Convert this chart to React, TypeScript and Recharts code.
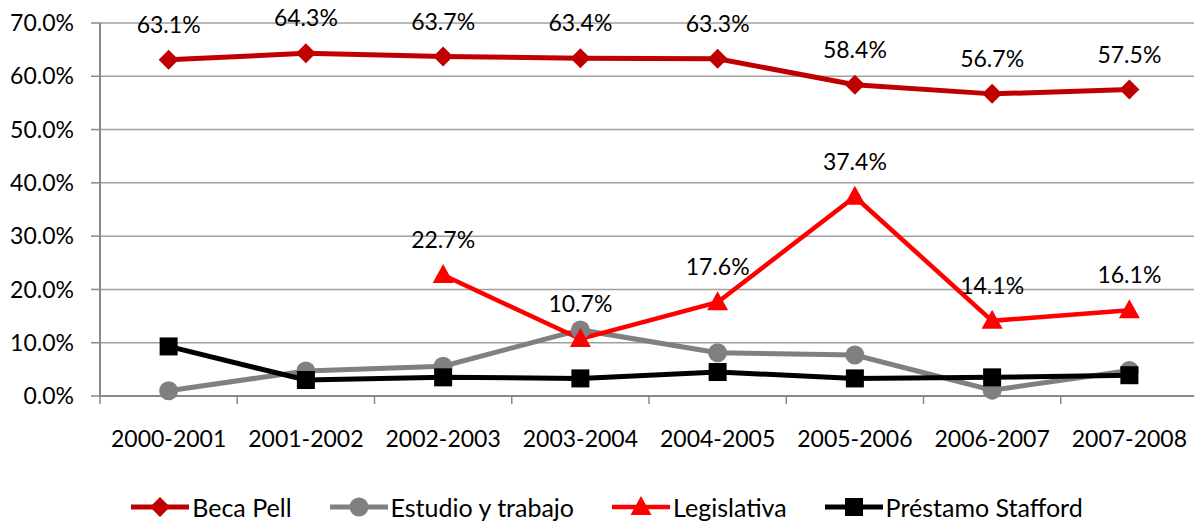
import React from "react";
import {
  LineChart,
  Line,
  XAxis,
  YAxis,
  CartesianGrid,
  Legend,
  LabelList,
} from "recharts";

// años académicos
const categories = [
  "2000-2001",
  "2001-2002",
  "2002-2003",
  "2003-2004",
  "2004-2005",
  "2005-2006",
  "2006-2007",
  "2007-2008",
];

const becaPell = [63.1, 64.3, 63.7, 63.4, 63.3, 58.4, 56.7, 57.5];
const estudioTrabajo = [1.0, 4.7, 5.6, 12.4, 8.1, 7.7, 1.1, 4.8];
const legislativa = [null, null, 22.7, 10.7, 17.6, 37.4, 14.1, 16.1];
const prestamoStafford = [9.3, 3.0, 3.5, 3.3, 4.5, 3.3, 3.5, 3.9];

const yTicks = [0, 10, 20, 30, 40, 50, 60, 70];

// etiquetas en el centro de cada categoría, marcas en los bordes
const xTicks = categories.flatMap((_, i) => [i - 0.5, i]).concat(categories.length - 0.5);

const FONT = "Lato, 'Open Sans', sans-serif";

const SERIES = [
  { key: "pell", name: "Beca Pell", color: "#C00000", shape: "diamond", width: 5 },
  { key: "estudio", name: "Estudio y trabajo", color: "#808080", shape: "circle", width: 5 },
  { key: "legis", name: "Legislativa", color: "#FF0000", shape: "triangle", width: 4.5 },
  { key: "stafford", name: "Préstamo Stafford", color: "#000000", shape: "square", width: 5 },
];

const data = categories.map((c, i) => ({
  i,
  cat: c,
  pell: becaPell[i],
  estudio: estudioTrabajo[i],
  legis: legislativa[i],
  stafford: prestamoStafford[i],
}));

function Marker({ shape, cx, cy, color }: any) {
  if (shape === "diamond") {
    return <path d={`M${cx},${cy - 10}L${cx + 10},${cy}L${cx},${cy + 10}L${cx - 10},${cy}Z`} fill={color} />;
  }
  if (shape === "circle") {
    return <circle cx={cx} cy={cy} r={9.5} fill={color} />;
  }
  if (shape === "triangle") {
    return <path d={`M${cx},${cy - 11}L${cx + 10.5},${cy + 8}L${cx - 10.5},${cy + 8}Z`} fill={color} />;
  }
  return <rect x={cx - 9} y={cy - 9} width={18} height={18} fill={color} />;
}

const makeDot = (shape: string, color: string) => (props: any) => {
  const { cx, cy, index, value } = props;
  if (value == null || cx == null || cy == null) return <g key={`d-${shape}-${index}`} />;
  return (
    <g key={`d-${shape}-${index}`}>
      <Marker shape={shape} cx={cx} cy={cy} color={color} />
    </g>
  );
};

const renderLabel = (props: any) => {
  const { x, y, value, index } = props;
  if (value == null) return null;
  return (
    <text
      key={`l-${index}`}
      x={x}
      y={y - 36}
      textAnchor="middle"
      dominantBaseline="central"
      fill="#000"
      fontSize={23}
      fontFamily={FONT}
    >
      {Number(value).toFixed(1)}%
    </text>
  );
};

function XTick(props: any) {
  const { x, y, payload } = props;
  const v = payload.value;
  if (Number.isInteger(v)) {
    return (
      <text x={x} y={y + 35} dy="0.71em" textAnchor="middle" fill="#000" fontSize={23} fontFamily={FONT}>
        {categories[v]}
      </text>
    );
  }
  return <line x1={x} x2={x} y1={y} y2={y + 8} stroke="#888" strokeWidth={1.5} />;
}

function LegendContent() {
  return (
    <div
      style={{
        display: "flex",
        justifyContent: "center",
        alignItems: "center",
        height: 36,
        paddingLeft: 16,
        fontFamily: FONT,
        fontSize: 25,
        color: "#000",
        whiteSpace: "nowrap",
      }}
    >
      {SERIES.map((s, i) => (
        <div
          key={s.key}
          style={{ display: "flex", alignItems: "center", marginRight: i < SERIES.length - 1 ? 38 : 0 }}
        >
          <svg width={58} height={24} style={{ marginRight: 3 }}>
            <line x1={0} y1={12} x2={58} y2={12} stroke={s.color} strokeWidth={s.width} />
            <Marker shape={s.shape} cx={29} cy={12} color={s.color} />
          </svg>
          <span>{s.name}</span>
        </div>
      ))}
    </div>
  );
}

export default function App() {
  return (
    <div
      style={{
        position: "absolute",
        left: 0,
        top: 0,
        width: 1194,
        height: 525,
        overflow: "hidden",
        background: "#fff",
      }}
    >
      <LineChart
        width={1198}
        height={525}
        data={data}
        margin={{ top: 23, right: 0, bottom: 0, left: 0 }}
        style={{ fontFamily: FONT }}
      >
        <CartesianGrid vertical={false} stroke="#A0A0A0" strokeWidth={1.5} />
        <XAxis
          type="number"
          dataKey="i"
          domain={[-0.5, 7.5]}
          ticks={xTicks}
          tick={<XTick />}
          tickLine={false}
          tickSize={0}
          tickMargin={0}
          axisLine={{ stroke: "#888", strokeWidth: 2 }}
          interval={0}
          height={93}
        />
        <YAxis
          domain={[0, 70]}
          ticks={yTicks}
          width={100}
          tickFormatter={(v) => `${Number(v).toFixed(1)}%`}
          tickSize={9}
          tickMargin={17}
          tickLine={{ stroke: "#888", strokeWidth: 1.5 }}
          axisLine={{ stroke: "#888", strokeWidth: 2 }}
          tick={{ fill: "#000", fontSize: 23, fontFamily: FONT }}
          interval={0}
        />
        <Legend verticalAlign="bottom" height={36} content={() => <LegendContent />} />
        {SERIES.map((s) => (
          <Line
            key={s.key}
            type="linear"
            dataKey={s.key}
            name={s.name}
            stroke={s.color}
            strokeWidth={s.width}
            dot={makeDot(s.shape, s.color)}
            activeDot={false}
            isAnimationActive={false}
          >
            {(s.key === "pell" || s.key === "legis") && (
              <LabelList dataKey={s.key} content={renderLabel} />
            )}
          </Line>
        ))}
      </LineChart>
    </div>
  );
}
